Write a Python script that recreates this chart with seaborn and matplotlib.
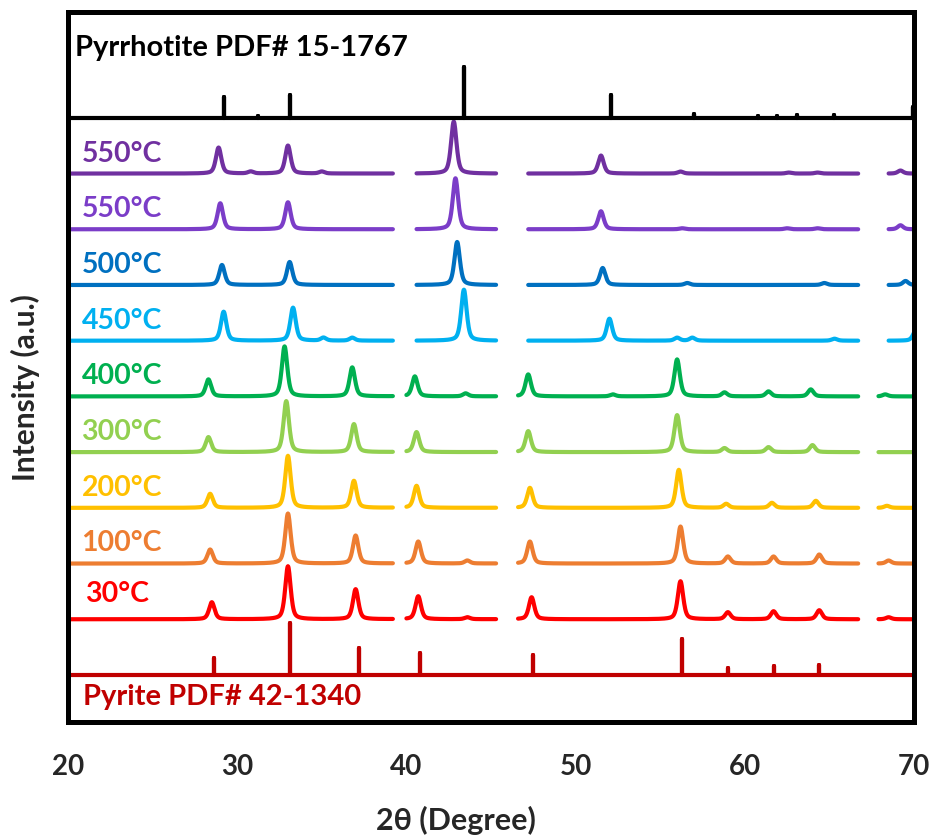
import numpy as np
import pandas as pd
import matplotlib
matplotlib.use("Agg")
import matplotlib.pyplot as plt
import seaborn as sns

# ---------------- data ----------------
x_min, x_max = 20, 70
x_ticks = [20, 30, 40, 50, 60, 70]

# reference stick patterns: positions (2theta) and relative intensities
pyrrhotite_pos = [29.2, 31.2, 33.1, 43.4, 52.1, 57.0, 60.8, 61.9, 63.1, 65.3, 69.95]
pyrrhotite_int = [21, 2, 23, 51, 23, 4, 1.5, 1.5, 3, 3, 11]
pyrite_pos = [28.6, 33.1, 37.2, 40.8, 47.5, 56.3, 59.0, 61.7, 64.4]
pyrite_int = [17, 52, 27, 22, 20, 36, 7, 9, 10]

# measured patterns (bottom to top): peak positions and heights
sample_labels = ["30°C", "100°C", "200°C", "300°C", "400°C",
                 "450°C", "500°C", "550°C", "550°C"]
sample_colors = ["#FF0000", "#ED7D31", "#FFC000", "#92D050", "#00B050",
                 "#00B0F0", "#0070C0", "#7B3DC8", "#7030A0"]

s30_pos = [28.5, 33.0, 37.0, 40.7, 43.6, 47.4, 56.2, 59.0, 61.7, 64.4, 68.5]
s30_int = [17, 53, 30, 23, 2, 22, 38, 7, 8, 9, 2]
s100_pos = [28.4, 33.0, 37.0, 40.7, 43.6, 47.3, 56.2, 59.0, 61.7, 64.4, 68.5]
s100_int = [14, 50, 28, 22, 3, 22, 37, 7, 7, 9, 3]
s200_pos = [28.4, 33.0, 36.9, 40.6, 47.3, 56.1, 58.9, 61.6, 64.2, 68.4]
s200_int = [14, 52, 27, 22, 20, 38, 4, 5, 7, 2]
s300_pos = [28.3, 32.9, 36.9, 40.6, 47.2, 56.0, 58.8, 61.4, 64.0]
s300_int = [15, 51, 28, 20, 21, 37, 4, 5, 7]
s400_pos = [28.3, 32.8, 36.8, 40.5, 43.5, 47.2, 52.2, 56.0, 58.8, 61.4, 63.9, 68.3]
s400_int = [17, 50, 29, 20, 3, 22, 2, 37, 4, 5, 7, 2]
s450_pos = [29.2, 33.3, 35.1, 36.8, 43.4, 52.0, 56.0, 56.9, 65.3, 70.1]
s450_int = [29, 33, 3, 3, 51, 22, 3, 3, 2, 10]
s500_pos = [29.1, 33.1, 43.0, 51.6, 56.6, 64.7, 69.5]
s500_int = [20, 23, 43, 17, 2, 2, 4]
s550a_pos = [29.0, 33.0, 42.9, 51.5, 56.3, 62.5, 64.3, 69.2]
s550a_int = [26, 27, 51, 18, 1, 1, 1, 4]
s550b_pos = [28.9, 30.8, 33.0, 35.0, 42.8, 51.5, 56.2, 62.6, 64.3, 69.2]
s550b_int = [26, 2, 28, 2, 52, 18, 2, 1, 1, 3]

# excluded (cut) 2theta ranges of the measured patterns
gaps_pyrite_type = [(39.2, 40.0), (45.3, 46.6), (66.7, 67.9)]
gaps_pyrrhotite_type = [(39.2, 40.6), (45.3, 47.2), (66.7, 68.5)]

sample_peaks = [(s30_pos, s30_int), (s100_pos, s100_int), (s200_pos, s200_int),
                (s300_pos, s300_int), (s400_pos, s400_int), (s450_pos, s450_int),
                (s500_pos, s500_int), (s550a_pos, s550a_int), (s550b_pos, s550b_int)]
sample_gaps = [gaps_pyrite_type] * 5 + [gaps_pyrrhotite_type] * 4

# ---------------- plotting ----------------
sns.set_style("white")
plt.rcParams["font.family"] = ["Lato", "DejaVu Sans"]
plt.rcParams["font.weight"] = "bold"

W, H = 935, 836
fig = plt.figure(figsize=(W / 100, H / 100), dpi=100)
ax = fig.add_axes([68 / W, 114 / H, 846 / W, 710 / H])

scale = 1 / 55.7      # intensity units -> offset units
lw = 3.0
grid = np.round(np.arange(x_min, x_max + 1e-9, 0.02), 3)


def profile(pos, ints):
    y = np.zeros_like(grid)
    for p, h in zip(pos, ints):
        d = (grid - p) / 0.19
        y += h * (0.5 * np.exp(-np.log(2) * d ** 2) + 0.5 / (1 + d ** 2))
    return y * scale


def stick_frame(pos, ints, offset):
    xs, ys = [x_min], [offset]
    for p, h in sorted(zip(pos, ints)):
        xs += [p, p, p]
        ys += [offset, offset + h * scale, offset]
    xs.append(x_max)
    ys.append(offset)
    return pd.DataFrame({"x": xs, "y": ys})


# pyrite reference (offset 0)
sns.lineplot(data=stick_frame(pyrite_pos, pyrite_int, 0), x="x", y="y",
             sort=False, estimator=None, color="#C00000", lw=lw, ax=ax)

# measured patterns (offsets 1..9)
for i, ((pos, ints), gaps, col, lab) in enumerate(
        zip(sample_peaks, sample_gaps, sample_colors, sample_labels)):
    off = i + 1
    y = profile(pos, ints) + off
    mask = np.ones_like(grid, dtype=bool)
    for a, b in gaps:
        mask &= ~((grid > a) & (grid < b))
    seg_id = np.cumsum(np.r_[1, np.diff(mask.astype(int)) != 0])
    df = pd.DataFrame({"x": grid, "y": y, "seg": seg_id})[mask]
    for _, d in df.groupby("seg"):
        sns.lineplot(data=d, x="x", y="y", estimator=None, color=col, lw=lw, ax=ax)
    ax.text(21.0 if lab == "30°C" else 20.8, off + (0.45 if lab == "30°C" else 0.36),
            lab, color=col, fontsize=20.5, fontweight="bold", va="center", ha="left")

# pyrrhotite reference (offset 10) - its baseline also divides the panel
sns.lineplot(data=stick_frame(pyrrhotite_pos, pyrrhotite_int, 10), x="x", y="y",
             sort=False, estimator=None, color="black", lw=lw, ax=ax)

ax.text(20.4, 11.26, "Pyrrhotite PDF# 15-1767", color="black", fontsize=21,
        fontweight="bold", va="center", ha="left")
ax.text(20.9, -0.40, "Pyrite PDF# 42-1340", color="#C00000", fontsize=21,
        fontweight="bold", va="center", ha="left")

ax.set_xlim(x_min, x_max)
ax.set_ylim(-0.844, 11.9)
ax.set_xticks(x_ticks)
ax.set_xticklabels([str(t) for t in x_ticks])
ax.set_yticks([])
ax.tick_params(axis="x", length=0, pad=23, labelsize=20)
for t in ax.get_xticklabels():
    t.set_fontweight("bold")
for s in ax.spines.values():
    s.set_visible(True)
    s.set_color("black")
    s.set_linewidth(3.6)

ax.set_xlabel("2θ (Degree)", fontsize=22, fontweight="bold")
ax.xaxis.set_label_coords((456 - 68) / 846, (722 - 806) / 710)
ax.set_ylabel("Intensity (a.u.)", fontsize=21.5, fontweight="bold")
ax.yaxis.set_label_coords((40 - 68) / 846, (722 - 388) / 710)

fig.savefig("out.png", dpi=100)
